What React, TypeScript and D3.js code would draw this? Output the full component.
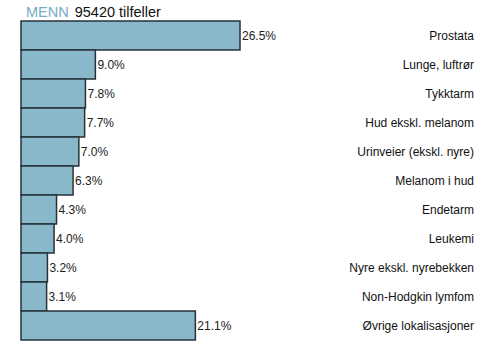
import * as d3 from "d3";

const categories = [
  "Prostata",
  "Lunge, luftrør",
  "Tykktarm",
  "Hud ekskl. melanom",
  "Urinveier (ekskl. nyre)",
  "Melanom i hud",
  "Endetarm",
  "Leukemi",
  "Nyre ekskl. nyrebekken",
  "Non-Hodgkin lymfom",
  "Øvrige lokalisasjoner",
];
const values = [26.5, 9.0, 7.8, 7.7, 7.0, 6.3, 4.3, 4.0, 3.2, 3.1, 21.1];
const valueLabels = ["26.5%", "9.0%", "7.8%", "7.7%", "7.0%", "6.3%", "4.3%", "4.0%", "3.2%", "3.1%", "21.1%"];

export default function App() {
  const width = 500;
  const height = 363;
  const left = 21;
  const top = 21;
  const bottom = 340;
  const labelRight = 474;

  const x = d3.scaleLinear().domain([0, 26.5]).range([left, 240]);
  const y = d3.scaleBand().domain(categories).range([top, bottom]).padding(0);

  return (
    <svg
      width={width}
      height={height}
      style={{ position: "absolute", left: 0, top: 0, fontFamily: "Liberation Sans, Arial, sans-serif" }}
    >
      <rect width={width} height={height} fill="#fff" />
      <text x={26} y={17} fontSize={14.5}>
        <tspan fill="#74adc4">MENN</tspan>
        <tspan fill="#111" dx={6}>95420 tilfeller</tspan>
      </text>
      {categories.map((c, i) => {
        const yy = y(c)!;
        const bh = y.bandwidth();
        return (
          <g key={c}>
            <rect
              x={x(0)}
              y={yy}
              width={x(values[i]) - x(0)}
              height={bh}
              fill="#88b8c9"
              stroke="#263238"
              strokeWidth={1.5}
            />
            <text x={x(values[i]) + 2} y={yy + bh / 2} dy="0.35em" fontSize={12} fill="#222">
              {valueLabels[i]}
            </text>
            <text x={labelRight} y={yy + bh / 2} dy="0.35em" fontSize={12} fill="#111" textAnchor="end">
              {c}
            </text>
          </g>
        );
      })}
    </svg>
  );
}
